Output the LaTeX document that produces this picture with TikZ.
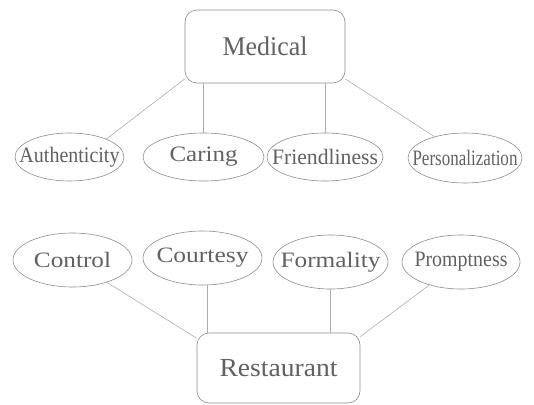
\documentclass[tikz,border=0pt]{standalone}
\usepackage{fontspec}
\setmainfont{Liberation Serif}
\usetikzlibrary{shapes.geometric,calc}
\newcommand{\fitw}[2]{\resizebox{#1}{\height}{#2}}
\tikzset{
  txt/.style={text=black!62},
  boxnode/.style={draw=black!45, line width=0.6pt, rounded corners=12pt, inner sep=0pt, txt},
  oval/.style={ellipse, draw=black!45, line width=0.6pt, inner sep=0pt},
  ovaltext/.style={txt, font=\fontsize{22}{24}\selectfont, inner sep=0pt},
  link/.style={draw=black!32, line width=0.6pt}
}
\begin{document}
\begin{tikzpicture}[x=1pt,y=-1pt]
\fill[white] (0,0) rectangle (534,404);
\useasboundingbox (0,0) rectangle (534,404);
% boxes
\node[boxnode, minimum width=160pt, minimum height=73pt, font=\fontsize{27}{29}\selectfont] (med) at (265,46.5) {\fitw{85pt}{Medical}};
\node[boxnode, minimum width=163pt, minimum height=70pt, font=\fontsize{26}{28}\selectfont] (rest) at (278.5,368) {\fitw{118pt}{Restaurant}};
% top ellipses
\node[oval, minimum width=109pt, minimum height=48pt] (auth) at (69.5,157) {};
\node[ovaltext] (authT) at (auth) {\fitw{100pt}{Authenticity}};
\node[oval, minimum width=121pt, minimum height=48pt] (car) at (203.5,157) {};
\node[ovaltext] (carT) at (car) {\fitw{68pt}{Caring}};
\node[oval, minimum width=116pt, minimum height=48pt] (fri) at (325,157) {};
\node[ovaltext] (friT) at (fri) {\fitw{106pt}{Friendliness}};
\node[oval, minimum width=114pt, minimum height=50pt] (pers) at (465,158) {};
\node[ovaltext] (persT) at (pers) {\fitw{105pt}{Personalization}};
% bottom ellipses
\node[oval, minimum width=119pt, minimum height=54pt] (con) at (72.5,260) {};
\node[ovaltext] (conT) at (con) {\fitw{77pt}{Control}};
\node[oval, minimum width=119pt, minimum height=54pt] (cour) at (202.5,258) {};
\node[ovaltext] (courT) at (cour) {\fitw{92pt}{Courtesy}};
\node[oval, minimum width=115pt, minimum height=54pt] (form) at (330.5,262) {};
\node[ovaltext] (formT) at (form) {\fitw{100pt}{Formality}};
\node[oval, minimum width=118pt, minimum height=54pt] (prom) at (461,262) {};
\node[ovaltext] (promT) at (prom) {\fitw{93pt}{Promptness}};
% links
\draw[link] (med.202) -- (auth.26);
\draw[link] (car.north) -- (car.north |- med.south);
\draw[link] (fri.north) -- (fri.north |- med.south);
\draw[link] (med.-22) -- (pers.145);
\draw[link] (con.-33) -- (rest.160);
\draw[link] (cour.-80) -- (cour.-80 |- rest.north);
\draw[link] (form.south) -- (form.south |- rest.north);
\draw[link] (prom.216) -- (rest.21);
\end{tikzpicture}
\end{document}
